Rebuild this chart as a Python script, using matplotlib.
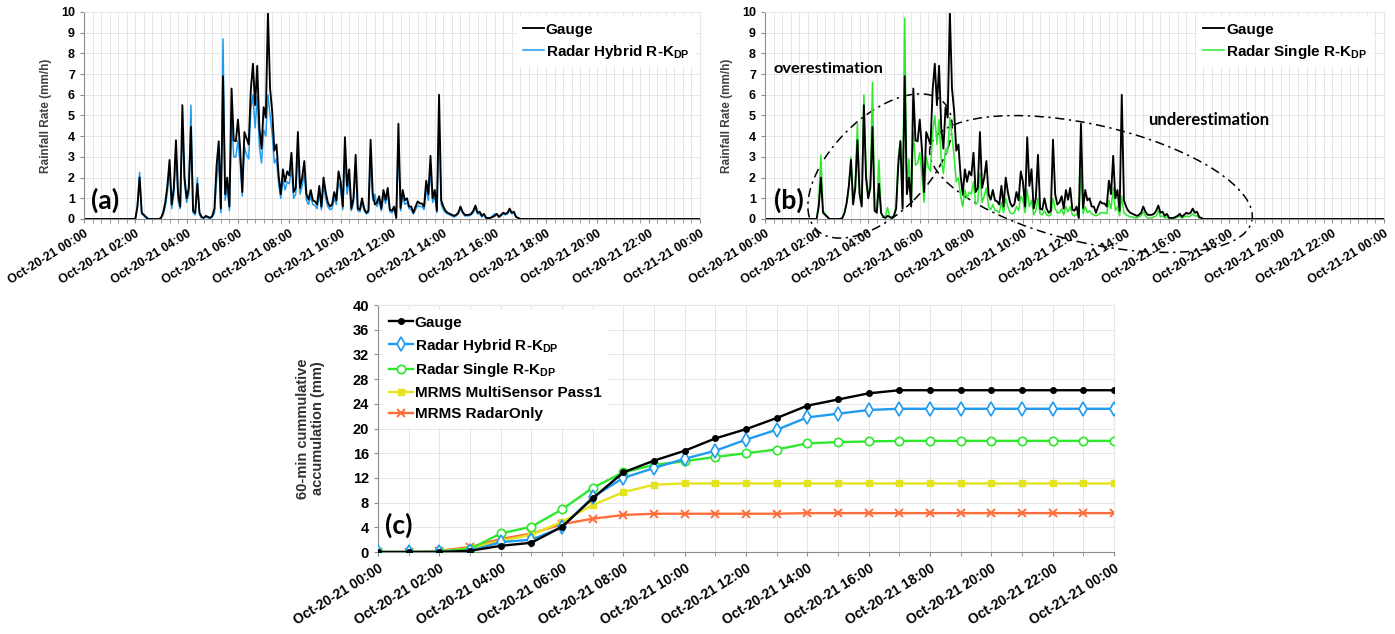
import datetime as dt

import matplotlib.pyplot as plt
import matplotlib.dates as mdates
from matplotlib.patches import Ellipse

# 5-min rainfall rate (mm/h), Oct-20-21 02:00 ... 17:00, one row per hour
gauge_rate = [
    0.0, 0.6, 2.0, 0.3, 0.2, 0.1, 0, 0, 0, 0, 0, 0,
    0.05, 0.3, 0.8, 1.6, 2.85, 0.7, 1.5, 3.8, 1.2, 0.6, 5.5, 2.0,
    1.0, 1.5, 4.45, 0.4, 0.3, 1.7, 0.3, 0.1, 0.05, 0.15, 0.1, 0.05,
    0.15, 0.5, 2.6, 3.75, 0.5, 6.9, 1.2, 2.0, 0.6, 6.3, 3.8, 3.75,
    4.8, 3.4, 1.3, 4.2, 3.9, 3.6, 6.25, 7.5, 5.5, 7.4, 4.4, 3.4,
    5.4, 4.9, 10.0, 6.3, 5.2, 3.3, 3.6, 2.1, 1.2, 2.4, 1.8, 2.3,
    2.1, 3.2, 1.3, 1.5, 4.2, 1.5, 2.0, 2.8, 1.2, 0.93, 1.4, 0.9,
    0.85, 0.7, 1.6, 0.6, 2.0, 1.3, 0.8, 0.6, 0.7, 1.3, 0.9, 2.3,
    1.8, 0.6, 3.95, 1.6, 2.4, 0.5, 1.0, 3.1, 0.5, 0.45, 1.0, 0.5,
    0.3, 0.4, 3.83, 1.2, 0.7, 0.8, 1.1, 0.5, 1.4, 0.93, 1.5, 0.45,
    0.4, 0.6, 0.05, 4.6, 0.53, 1.4, 0.9, 1.0, 0.6, 0.6, 0.3, 0.6,
    0.85, 0.75, 0.75, 0.6, 1.85, 1.2, 3.05, 1.0, 1.4, 0.4, 6.0, 0.9,
    0.6, 0.4, 0.3, 0.25, 0.2, 0.15, 0.2, 0.3, 0.6, 0.35, 0.2, 0.2,
    0.2, 0.25, 0.4, 0.65, 0.3, 0.35, 0.15, 0.25, 0.05, 0.05, 0.05, 0.1,
    0.15, 0.25, 0.1, 0.2, 0.3, 0.25, 0.3, 0.5, 0.3, 0.35, 0.1, 0.05,
    0.0,
]
hybrid_rate = [
    0.0, 0.7, 2.25, 0.25, 0.15, 0.05, 0, 0, 0, 0, 0, 0,
    0.05, 0.2, 0.6, 1.3, 2.5, 0.5, 1.2, 3.3, 0.9, 0.5, 4.5, 1.7,
    0.8, 1.2, 5.5, 0.3, 0.2, 2.0, 0.2, 0.05, 0.05, 0.1, 0.05, 0.05,
    0.1, 0.3, 1.9, 2.9, 0.3, 8.7, 0.9, 1.5, 0.4, 5.0, 3.0, 3.0,
    3.8, 2.7, 1.1, 3.5, 3.1, 2.9, 5.3, 6.0, 4.4, 5.9, 3.5, 2.7,
    4.3, 4.0, 6.0, 5.0, 4.1, 2.7, 2.9, 1.7, 1.0, 1.9, 1.4, 1.8,
    1.7, 2.5, 1.0, 1.2, 3.3, 1.2, 1.6, 2.2, 0.9, 0.7, 1.1, 0.7,
    0.65, 0.5, 1.3, 0.45, 1.6, 1.0, 0.6, 0.45, 0.5, 1.0, 0.7, 1.8,
    1.4, 0.45, 3.1, 1.2, 1.9, 0.4, 0.8, 2.4, 0.4, 0.35, 0.8, 0.4,
    0.25, 0.3, 3.0, 0.9, 1.2, 0.6, 0.9, 0.4, 1.1, 0.75, 1.2, 0.35,
    0.3, 0.5, 0.05, 3.6, 0.4, 1.1, 0.7, 0.8, 0.5, 0.45, 0.25, 0.45,
    0.65, 0.6, 0.6, 0.45, 1.5, 0.9, 2.4, 0.8, 1.1, 0.3, 4.7, 0.7,
    0.45, 0.3, 0.25, 0.2, 0.15, 0.1, 0.15, 0.25, 0.5, 0.3, 0.15, 0.15,
    0.15, 0.2, 0.3, 0.5, 0.25, 0.25, 0.1, 0.2, 0.05, 0.05, 0.05, 0.15,
    0.25, 0.2, 0.1, 0.15, 0.25, 0.2, 0.25, 0.4, 0.25, 0.3, 0.1, 0.05,
    0.0,
]
single_rate = [
    0.0, 0.8, 3.1, 0.4, 0.25, 0.1, 0, 0, 0, 0, 0, 0,
    0.05, 0.3, 0.7, 1.5, 3.0, 0.8, 1.8, 4.6, 1.3, 0.7, 6.0, 2.2,
    1.1, 1.8, 6.6, 0.5, 0.4, 2.85, 0.3, 0.1, 0.15, 0.55, 0.1, 0.05,
    0.2, 0.6, 3.0, 3.8, 0.6, 9.7, 1.3, 2.9, 0.7, 4.2, 2.6, 2.7,
    3.2, 2.1, 0.8, 3.0, 2.5, 2.3, 4.2, 5.0, 3.6, 4.8, 2.8, 2.2,
    3.4, 3.2, 4.9, 4.0, 3.0, 1.8, 2.0, 1.1, 0.6, 1.4, 1.0, 1.3,
    1.2, 1.8, 0.7, 0.8, 2.2, 0.8, 1.1, 1.5, 0.6, 0.45, 0.7, 0.4,
    0.4, 0.3, 0.8, 0.3, 1.0, 0.6, 0.3, 0.25, 0.3, 0.6, 0.4, 1.1,
    0.9, 0.3, 1.4, 0.6, 0.9, 0.2, 0.4, 1.0, 0.25, 0.2, 0.4, 0.2,
    0.15, 0.2, 1.0, 0.5, 0.3, 0.3, 0.5, 0.2, 0.6, 0.35, 0.6, 0.2,
    0.15, 0.25, 0.05, 2.3, 0.25, 0.6, 0.3, 0.4, 0.25, 0.2, 0.15, 0.2,
    0.3, 0.3, 0.3, 0.25, 0.9, 0.5, 1.5, 0.4, 0.6, 0.15, 1.1, 0.3,
    0.2, 0.15, 0.1, 0.1, 0.05, 0.05, 0.1, 0.15, 0.35, 0.15, 0.05, 0.05,
    0.05, 0.1, 0.15, 0.4, 0.1, 0.15, 0.05, 0.1, 0.0, 0.0, 0.0, 0.05,
    0.1, 0.15, 0.05, 0.1, 0.15, 0.1, 0.15, 0.25, 0.15, 0.15, 0.05, 0.02,
    0.0,
]

# 60-min cumulative accumulation (mm), hourly 00:00 ... next day 00:00
gauge_acc = [0, 0, 0, 0.2, 1.0, 1.5, 4.1, 8.7, 12.9, 14.8, 16.4, 18.4, 19.9,
             21.7, 23.7, 24.7, 25.7, 26.2, 26.2, 26.2, 26.2, 26.2, 26.2, 26.2, 26.2]
hybrid_acc = [0, 0, 0, 0.2, 1.6, 2.0, 4.0, 8.9, 12.0, 13.6, 15.1, 16.4, 18.2,
              19.8, 21.8, 22.4, 23.0, 23.2, 23.2, 23.2, 23.2, 23.2, 23.2, 23.2, 23.2]
single_acc = [0, 0, 0.1, 0.5, 3.0, 4.1, 6.9, 10.4, 12.9, 14.1, 14.7, 15.4, 16.0,
              16.6, 17.6, 17.8, 17.9, 18.0, 18.0, 18.0, 18.0, 18.0, 18.0, 18.0, 18.0]
multi_acc = [0, 0, 0.1, 0.6, 1.8, 2.8, 4.9, 7.6, 9.7, 10.9, 11.1, 11.1, 11.1,
             11.1, 11.1, 11.1, 11.1, 11.1, 11.1, 11.1, 11.1, 11.1, 11.1, 11.1, 11.1]
radaronly_acc = [0, 0, 0.2, 0.8, 2.1, 3.0, 4.5, 5.4, 6.0, 6.2, 6.2, 6.2, 6.2,
                 6.2, 6.3, 6.3, 6.3, 6.3, 6.3, 6.3, 6.3, 6.3, 6.3, 6.3, 6.3]

day0 = dt.datetime(2021, 10, 20, 0, 0)
day1 = dt.datetime(2021, 10, 21, 0, 0)
rate_start = dt.datetime(2021, 10, 20, 2, 0)
rate_times = [day0] + [rate_start + dt.timedelta(minutes=5 * i) for i in range(len(gauge_rate))] + [day1]
acc_times = [day0 + dt.timedelta(hours=h) for h in range(len(gauge_acc))]

NARROW = ["Liberation Sans Narrow", "Liberation Sans", "DejaVu Sans"]
ARIAL = ["Liberation Sans", "DejaVu Sans"]
CALIBRI = ["Lato", "Open Sans", "DejaVu Sans"]

BLUE = "#1f9bf0"
GREEN = "#2ee82e"
YELLOW = "#e3e31e"
ORANGE = "#ff6d3a"
GRID = "#e6e6e6"

fig = plt.figure(figsize=(13.95, 6.34), dpi=100)
ax_a = fig.add_axes([0.0602, 0.6546, 0.4416, 0.3265])
ax_b = fig.add_axes([0.5484, 0.6546, 0.4437, 0.3265])
ax_c = fig.add_axes([0.2710, 0.1293, 0.5276, 0.3896])


def style_axes(ax, xsize, ysize, minor_min):
    ax.set_xlim(day0, day1)
    ax.xaxis.set_major_locator(mdates.HourLocator(byhour=range(0, 24, 2)))
    ax.xaxis.set_minor_locator(mdates.MinuteLocator(byminute=range(0, 60, minor_min))
                               if minor_min < 60 else mdates.HourLocator())
    ax.xaxis.set_major_formatter(mdates.DateFormatter("%b-%d-%y %H:%M"))
    ax.grid(True, which="both", color=GRID, lw=0.7)
    ax.set_axisbelow(True)
    for s in ("top", "right"):
        ax.spines[s].set_color(GRID)
    for s in ("left", "bottom"):
        ax.spines[s].set_color("#8c8c8c")
    ax.tick_params(axis="both", which="both", color="#8c8c8c", length=3)
    for lab in ax.get_xticklabels():
        lab.set_rotation(32)
        lab.set_ha("right")
        lab.set_rotation_mode("anchor")
        lab.set_family(ARIAL)
        lab.set_weight("bold")
        lab.set_fontsize(xsize)
    for lab in ax.get_yticklabels():
        lab.set_family(NARROW)
        lab.set_weight("bold")
        lab.set_fontsize(ysize)


# (a) gauge vs hybrid
ax_a.plot(rate_times, [0.0] + hybrid_rate + [0.0], color=BLUE, lw=1.1, label=r"Radar Hybrid R-K$\mathregular{_{DP}}$")
ax_a.plot(rate_times, [0.0] + gauge_rate + [0.0], color="black", lw=1.35, label="Gauge")
ax_a.set_ylim(0, 10)
ax_a.set_yticks(range(0, 11))
style_axes(ax_a, 8.9, 9, 20)
ax_a.set_ylabel("Rainfall Rate (mm/h)", family=ARIAL, weight="bold", fontsize=8.5, color="#404040")
ax_a.yaxis.set_label_coords(-0.052, 0.5)
h, l = ax_a.get_legend_handles_labels()
leg = ax_a.legend(h[::-1], l[::-1], loc="upper right", bbox_to_anchor=(1.0, 1.0), frameon=True,
                  facecolor="white", edgecolor="none", framealpha=1, handlelength=1.4, handletextpad=0.1,
                  borderaxespad=0.3, labelspacing=0.4, prop={"family": NARROW, "weight": "bold", "size": 11})
ax_a.text(0.012, 0.09, "(a)", transform=ax_a.transAxes, family=CALIBRI, weight="bold", fontsize=19, va="center")

# (b) gauge vs single
ax_b.plot(rate_times, [0.0] + single_rate + [0.0], color=GREEN, lw=1.1, label=r"Radar Single R-K$\mathregular{_{DP}}$")
ax_b.plot(rate_times, [0.0] + gauge_rate + [0.0], color="black", lw=1.35, label="Gauge")
ax_b.set_ylim(0, 10)
ax_b.set_yticks(range(0, 11))
style_axes(ax_b, 8.9, 9, 20)
ax_b.set_ylabel("Rainfall Rate (mm/h)", family=ARIAL, weight="bold", fontsize=8.5, color="#404040")
ax_b.yaxis.set_label_coords(-0.052, 0.5)
h, l = ax_b.get_legend_handles_labels()
ax_b.legend(h[::-1], l[::-1], loc="upper right", bbox_to_anchor=(0.99, 1.0), frameon=True,
            facecolor="white", edgecolor="none", framealpha=1, handlelength=1.4, handletextpad=0.1,
            borderaxespad=0.3, labelspacing=0.4, prop={"family": NARROW, "weight": "bold", "size": 11})
ax_b.text(0.015, 0.09, "(b)", transform=ax_b.transAxes, family=CALIBRI, weight="bold", fontsize=19, va="center")
ax_b.text(0.013, 0.725, "overestimation", transform=ax_b.transAxes, family=CALIBRI, weight="bold",
          fontsize=11.8, va="center")
ax_b.text(0.619, 0.478, "underestimation", transform=ax_b.transAxes, family=CALIBRI, weight="bold",
          fontsize=12, va="center")
for cx, cy, w, hgt, ang in [(8.80, 4.68, 1.80, 0.96, 45), (10.91, 4.50, 3.30, 1.18, -13)]:
    ax_b.add_patch(Ellipse((cx, cy), w, hgt, angle=ang, transform=fig.dpi_scale_trans, fill=False,
                           ec="black", lw=1.1, ls=(0, (6, 3, 1.5, 3)), clip_on=False))

# (c) cumulative accumulation
ax_c.plot(acc_times, gauge_acc, color="black", lw=1.7, marker="o", ms=4, label="Gauge", zorder=6)
ax_c.plot(acc_times, hybrid_acc, color=BLUE, lw=1.7, marker="d", ms=7, mfc="white", mew=1.2,
          label=r"Radar Hybrid R-K$\mathregular{_{DP}}$", zorder=5)
ax_c.plot(acc_times, single_acc, color=GREEN, lw=1.7, marker="o", ms=6, mfc="white", mew=1.2,
          label=r"Radar Single R-K$\mathregular{_{DP}}$", zorder=4)
ax_c.plot(acc_times, multi_acc, color=YELLOW, lw=1.7, marker="s", ms=5, label="MRMS MultiSensor Pass1", zorder=3)
ax_c.plot(acc_times, radaronly_acc, color=ORANGE, lw=1.7, marker="x", ms=6, mew=1.4, label="MRMS RadarOnly", zorder=2)
ax_c.set_ylim(0, 40)
ax_c.set_yticks(range(0, 41, 4))
style_axes(ax_c, 10, 10.5, 60)
ax_c.set_ylabel("60-min cummulative\naccumulation (mm)", family=ARIAL, weight="bold", fontsize=10.5,
                color="#303030", linespacing=1.1)
ax_c.yaxis.set_label_coords(-0.072, 0.5)
ax_c.legend(loc="upper left", bbox_to_anchor=(0.0, 1.0), frameon=True, facecolor="white", edgecolor="none",
            framealpha=1, handlelength=1.6, handletextpad=0.1, borderaxespad=0.3, labelspacing=0.45,
            prop={"family": NARROW, "weight": "bold", "size": 11})
ax_c.text(0.01, 0.11, "(c)", transform=ax_c.transAxes, family=CALIBRI, weight="bold", fontsize=19, va="center")

fig.savefig("out.png", dpi=100)
